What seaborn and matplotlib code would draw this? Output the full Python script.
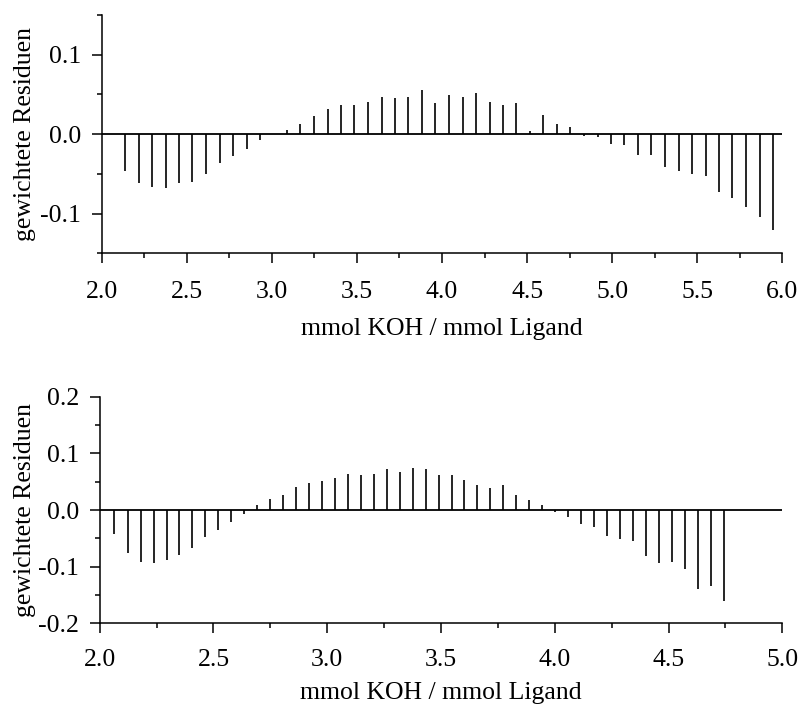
import matplotlib
matplotlib.use("Agg")
import matplotlib.pyplot as plt
import seaborn as sns
from matplotlib.ticker import MultipleLocator, FormatStrFormatter

# ---- data: top panel ----
x_top = [2.137, 2.217, 2.296, 2.376, 2.455, 2.533, 2.614, 2.694, 2.772, 2.853,
         2.931, 3.010, 3.090, 3.168, 3.247, 3.327, 3.406, 3.484, 3.565, 3.645,
         3.724, 3.800, 3.882, 3.960, 4.040, 4.121, 4.200, 4.280, 4.360, 4.437,
         4.515, 4.596, 4.676, 4.755, 4.833, 4.914, 4.994, 5.072, 5.150, 5.230,
         5.310, 5.390, 5.468, 5.549, 5.627, 5.707, 5.786, 5.866, 5.945]
res_top = [-0.047, -0.062, -0.066, -0.068, -0.062, -0.060, -0.050, -0.036, -0.027, -0.019,
           -0.0075, 0.0005, 0.005, 0.013, 0.023, 0.032, 0.036, 0.037, 0.040, 0.047,
           0.046, 0.047, 0.056, 0.039, 0.049, 0.047, 0.052, 0.041, 0.036, 0.039,
           0.004, 0.024, 0.013, 0.009, -0.002, -0.004, -0.012, -0.014, -0.026, -0.026,
           -0.042, -0.046, -0.050, -0.053, -0.073, -0.080, -0.092, -0.104, -0.121]

# ---- data: bottom panel ----
x_bot = [2.064, 2.123, 2.180, 2.237, 2.294, 2.350, 2.407, 2.464, 2.521, 2.578,
         2.634, 2.691, 2.749, 2.806, 2.863, 2.920, 2.977, 3.034, 3.091, 3.147,
         3.204, 3.262, 3.319, 3.376, 3.433, 3.490, 3.547, 3.603, 3.660, 3.717,
         3.774, 3.831, 3.887, 3.944, 4.000, 4.058, 4.115, 4.172, 4.229, 4.286,
         4.343, 4.400, 4.457, 4.514, 4.571, 4.629, 4.686, 4.743]
res_bot = [-0.042, -0.075, -0.092, -0.094, -0.089, -0.080, -0.067, -0.048, -0.035, -0.021,
           -0.0065, 0.008, 0.020, 0.027, 0.040, 0.047, 0.052, 0.057, 0.063, 0.062,
           0.063, 0.072, 0.067, 0.074, 0.072, 0.061, 0.061, 0.053, 0.045, 0.038,
           0.044, 0.027, 0.018, 0.009, -0.004, -0.012, -0.024, -0.030, -0.046, -0.051,
           -0.055, -0.081, -0.094, -0.091, -0.105, -0.139, -0.134, -0.161]

top_yticks = [-0.1, 0.0, 0.1]
bot_yticks = [-0.2, -0.1, 0.0, 0.1, 0.2]
xlabel = "mmol KOH / mmol Ligand"
ylabel = "gewichtete Residuen"

sns.set_theme(style="ticks")
plt.rcParams["font.family"] = ["Liberation Serif", "DejaVu Serif"]
FS = 18.5
plt.rcParams.update({
    "axes.linewidth": 1.1,
    "xtick.major.width": 1.1, "ytick.major.width": 1.1,
    "xtick.minor.width": 1.1, "ytick.minor.width": 1.1,
    "xtick.major.size": 7.2, "ytick.major.size": 7.2,
    "xtick.minor.size": 3.6, "ytick.minor.size": 3.6,
    "xtick.color": "black", "ytick.color": "black",
    "axes.edgecolor": "black", "text.color": "black", "axes.labelcolor": "black",
})

fig = plt.figure(figsize=(8.01, 7.08), dpi=100)
ax1 = fig.add_axes([0.127, 0.6422, 0.8497, 0.3368])
ax2 = fig.add_axes([0.1245, 0.1196, 0.8522, 0.3201])

def panel(ax, xs, ys, xlim, ylim, yticks, xpad, labelpad):
    ax.vlines(xs, 0, ys, colors="black", linewidth=1.2)
    ax.axhline(0, color="black", linewidth=1.3)
    ax.set_xlim(*xlim)
    ax.set_ylim(*ylim)
    ax.xaxis.set_major_locator(MultipleLocator(0.5))
    ax.xaxis.set_minor_locator(MultipleLocator(0.25))
    ax.set_yticks(yticks)
    ax.yaxis.set_minor_locator(MultipleLocator(0.05))
    ax.xaxis.set_major_formatter(FormatStrFormatter("%.1f"))
    ax.yaxis.set_major_formatter(FormatStrFormatter("%.1f"))
    sns.despine(ax=ax)
    ax.tick_params(axis="x", which="major", pad=xpad, labelsize=FS)
    ax.tick_params(axis="y", which="major", pad=7.5, labelsize=FS)
    ax.set_xlabel(xlabel, fontsize=FS, labelpad=labelpad)
    ax.set_ylabel(ylabel, fontsize=FS)

panel(ax1, x_top, res_top, (2.0, 6.0), (-0.15, 0.15), top_yticks, 12.5, 11.0)
panel(ax2, x_bot, res_bot, (2.0, 5.0), (-0.2, 0.2), bot_yticks, 11.5, 7.5)
ax1.yaxis.set_label_coords(-0.097, 0.5)
ax2.yaxis.set_label_coords(-0.094, 0.5)

fig.savefig("out.png", dpi=100)
